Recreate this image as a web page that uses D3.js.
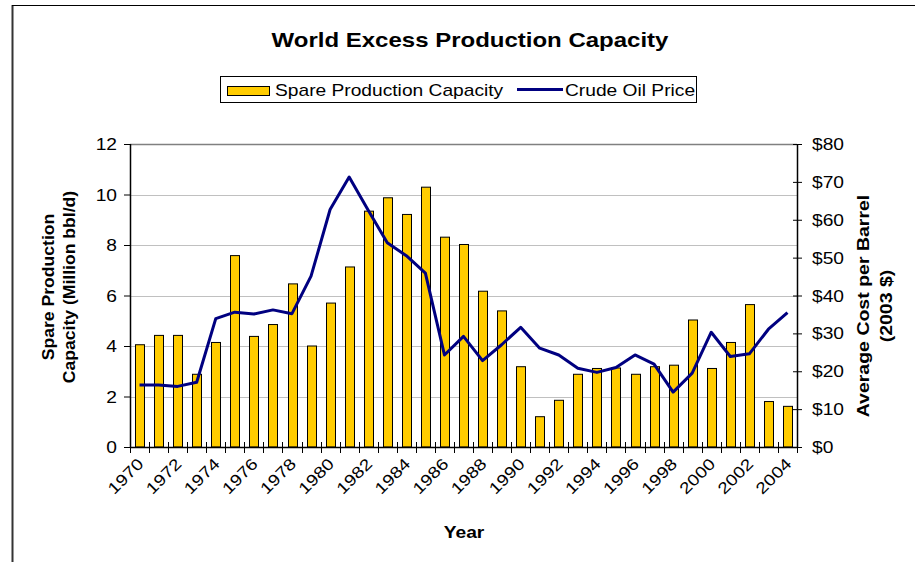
<!DOCTYPE html>
<html>
<head>
<meta charset="utf-8">
<script src="https://cdn.jsdelivr.net/npm/d3@7"></script>
<style>
  html, body { margin: 0; padding: 0; background: #fff; }
  svg { display: block; font-family: "Liberation Sans", Arial, sans-serif; }
</style>
</head>
<body>
<svg id="chart" width="915" height="562"></svg>
<script>
const years = d3.range(1970, 2005).map(String);
const spareCapacity = [4.05, 4.42, 4.42, 2.88, 4.14, 7.58, 4.38, 4.85, 6.46, 4.0,
  5.7, 7.13, 9.34, 9.87, 9.21, 10.29, 8.31, 8.02, 6.17, 5.39,
  3.18, 1.2, 1.85, 2.88, 3.11, 3.13, 2.88, 3.18, 3.24, 5.03,
  3.11, 4.14, 5.64, 1.8, 1.61];
const oilPrice = [16.4, 16.4, 16.0, 17.1, 33.9, 35.6, 35.1, 36.2, 35.2, 45.1,
  62.7, 71.3, 62.5, 53.9, 50.5, 45.9, 24.3, 29.2, 22.8, 27.0,
  31.6, 26.1, 24.3, 20.8, 19.7, 21.0, 24.3, 21.9, 14.5, 19.5,
  30.3, 23.9, 24.6, 31.1, 35.5];
const leftTicks = [0, 2, 4, 6, 8, 10, 12];
const rightTicks = [0, 10, 20, 30, 40, 50, 60, 70, 80];
const xLabelYears = years.filter((d, i) => i % 2 === 0);

const SX = 1.2; // horizontal stretch of the reference's lettering
const svg = d3.select("#chart");
const L = 130, R = 797, T = 144, B = 447;

function stext(parent, x, y, rot, str, size, weight, anchor, sx) {
  return parent.append("text")
    .attr("transform", `translate(${x},${y}) rotate(${rot}) scale(${sx || SX},1)`)
    .attr("font-size", size).attr("font-weight", weight || "normal")
    .attr("text-anchor", anchor || "start").attr("fill", "#000")
    .text(str);
}

// outer frame (partially visible)
svg.append("line").attr("x1", 12.5).attr("x2", 12.5).attr("y1", 5).attr("y2", 562)
  .attr("stroke", "#333").attr("stroke-width", 2);
svg.append("line").attr("x1", 12).attr("x2", 915).attr("y1", 5.5).attr("y2", 5.5)
  .attr("stroke", "#000").attr("stroke-width", 1);

const x = d3.scaleBand().domain(years).range([L, R]).paddingInner(0.53).paddingOuter(0.265);
const xBand = d3.scaleBand().domain(years).range([L, R]);
const yL = d3.scaleLinear().domain([0, 12]).range([B, T]);
const yR = d3.scaleLinear().domain([0, 80]).range([B, T]);

// gridlines
svg.append("g").selectAll("line").data(leftTicks.filter(d => d > 0)).join("line")
  .attr("x1", L).attr("x2", R)
  .attr("y1", d => Math.round(yL(d)) + 0.5).attr("y2", d => Math.round(yL(d)) + 0.5)
  .attr("stroke", d => d === 12 ? "#808080" : "#c0c0c0").attr("stroke-width", d => d === 12 ? 1.5 : 1);

// bars
svg.append("g").selectAll("rect").data(years).join("rect")
  .attr("x", d => Math.round(x(d)) + 0.5)
  .attr("y", (d, i) => yL(spareCapacity[i]))
  .attr("width", Math.round(x.bandwidth()))
  .attr("height", (d, i) => B - yL(spareCapacity[i]))
  .attr("fill", "#FFCC00").attr("stroke", "#000").attr("stroke-width", 1);

// line
const line = d3.line()
  .x((d, i) => xBand(years[i]) + xBand.bandwidth() / 2)
  .y(d => yR(d));
svg.append("path").datum(oilPrice).attr("d", line)
  .attr("fill", "none").attr("stroke", "#000080").attr("stroke-width", 3)
  .attr("stroke-linejoin", "round");

// axes (lines and ticks through d3 axes; labels drawn below)
const axL = svg.append("g").attr("transform", `translate(${L},0)`)
  .call(d3.axisLeft(yL).tickValues(leftTicks).tickSize(6).tickFormat(""));
const axR = svg.append("g").attr("transform", `translate(${R},0)`)
  .call(d3.axisRight(yR).tickValues(rightTicks).tickSize(5).tickFormat(""));
axR.selectAll(".tick line").attr("x1", -4);
const axX = svg.append("g").attr("transform", `translate(0,${B})`)
  .call(d3.axisBottom(xBand).tickValues([]).tickSize(0));
axX.selectAll("line.tk").data(years.concat(["end"])).join("line")
  .attr("class", "tk")
  .attr("x1", (d, i) => Math.round(L + i * xBand.bandwidth()) + 0.5)
  .attr("x2", (d, i) => Math.round(L + i * xBand.bandwidth()) + 0.5)
  .attr("y1", -5).attr("y2", 6).attr("stroke", "#000");

[axL, axR, axX].forEach(a => {
  a.select(".domain").attr("stroke", "#000").attr("stroke-width", 1.5);
  a.selectAll(".tick line").attr("stroke", "#000");
});
axL.select(".domain").attr("d", `M0.5,${B}V${T}`);
axR.select(".domain").attr("d", `M0.5,${B}V${T}`);
axX.select(".domain").attr("d", `M${L},0.5H${R}`);

// tick labels
const tl = svg.append("g");
leftTicks.forEach(v => stext(tl, 117, yL(v) + 6, 0, String(v), 16, "normal", "end"));
rightTicks.forEach(v => stext(tl, 812, yR(v) + 6, 0, "$" + v, 16, "normal", "start"));
xLabelYears.forEach(d => stext(tl, xBand(d) + xBand.bandwidth() / 2 + 5, B + 18, -45, d, 16, "normal", "end"));

// title
stext(svg, 470, 47, 0, "World Excess Production Capacity", 20, "bold", "middle");

// legend
const lg = svg.append("g");
lg.append("rect").attr("x", 220.5).attr("y", 76.5).attr("width", 476).attr("height", 26)
  .attr("fill", "#fff").attr("stroke", "#000");
lg.append("rect").attr("x", 227.5).attr("y", 86.5).attr("width", 42).attr("height", 9)
  .attr("fill", "#FFCC00").attr("stroke", "#000");
stext(lg, 275, 96, 0, "Spare Production Capacity", 16);
lg.append("line").attr("x1", 517).attr("x2", 563).attr("y1", 89.5).attr("y2", 89.5)
  .attr("stroke", "#000080").attr("stroke-width", 3);
stext(lg, 565, 96, 0, "Crude Oil Price", 16);

// axis titles
stext(svg, 54, 287, -90, "Spare Production", 16, "bold", "middle", 1.1);
stext(svg, 75, 287, -90, "Capacity (Million bbl/d)", 16, "bold", "middle", 1.1);
stext(svg, 869, 306, -90, "Average Cost per Barrel", 16, "bold", "middle", 1.22);
stext(svg, 892, 306, -90, "(2003 $)", 16, "bold", "middle", 1.22);
stext(svg, 464, 538, 0, "Year", 16, "bold", "middle");
</script>
</body>
</html>
